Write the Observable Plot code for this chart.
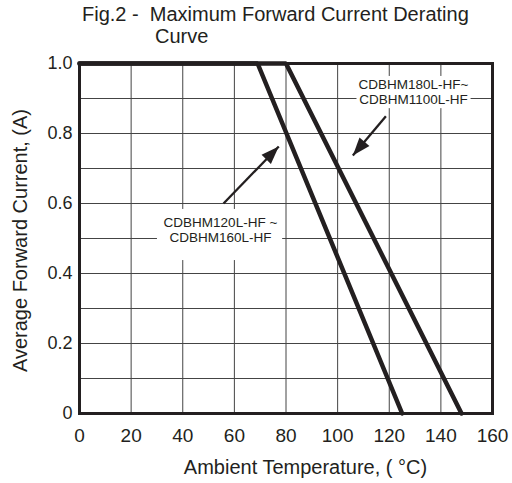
<!DOCTYPE html>
<html>
<head>
<meta charset="utf-8">
<script src="https://cdn.jsdelivr.net/npm/d3@7"></script>
<script src="https://cdn.jsdelivr.net/npm/@observablehq/plot@0.6"></script>
<style>
  html, body { margin: 0; padding: 0; background: #fff; }
  #wrap { position: relative; width: 512px; height: 483px; font-family: "Liberation Sans", Arial, sans-serif; color: #231f20; }
  #title { position: relative; height: 50px; font-size: 20px; }
  #title .l1 { position: absolute; left: 82px; top: 3px; white-space: pre; }
  #title .l2 { position: absolute; left: 155px; top: 25px; white-space: pre; }
</style>
</head>
<body>
<div id="wrap">
  <div id="title"><span class="l1">Fig.2 -  Maximum Forward Current Derating</span><span class="l2">Curve</span></div>
  <div id="chart"></div>
</div>
<script>
// ---- data ----
const xTicks = [0, 20, 40, 60, 80, 100, 120, 140, 160];
const yTicks = [0, 0.2, 0.4, 0.6, 0.8, 1.0];
const yTickLabels = ["0", "0.2", "0.4", "0.6", "0.8", "1.0"];
const xGrid = [20, 40, 60, 80, 100, 120, 140];
const yGrid = [0.1, 0.2, 0.3, 0.4, 0.5, 0.6, 0.7, 0.8, 0.9];

// CDBHM120L-HF ~ CDBHM160L-HF
const tempA = [0, 69, 125];
const currentA = [1.0, 1.0, 0];
// CDBHM180L-HF ~ CDBHM1100L-HF
const tempB = [0, 80, 148];
const currentB = [1.0, 1.0, 0];

const labelTexts = ["CDBHM180L-HF~\nCDBHM1100L-HF", "CDBHM120L-HF ~\nCDBHM160L-HF"];
const labelX = [129.4, 54.6];
const labelY = [0.919, 0.524];
const boxX1 = [107.5, 30.2];
const boxX2 = [151.7, 78.7];
const boxY1 = [0.871, 0.437];
const boxY2 = [0.963, 0.583];
const arrowX1 = [118.7, 55.8];
const arrowY1 = [0.849, 0.600];
const arrowX2 = [105.9, 77.2];
const arrowY2 = [0.737, 0.763];

// ---- build tables ----
const seriesA = tempA.map((t, i) => ({t, a: currentA[i]}));
const seriesB = tempB.map((t, i) => ({t, a: currentB[i]}));
const labels = labelTexts.map((text, i) => ({text, x: labelX[i], y: labelY[i]}));
const boxes = boxX1.map((_, i) => ({x1: boxX1[i], x2: boxX2[i], y1: boxY1[i], y2: boxY2[i]}));

const W = 512, H = 433, mL = 79, mR = 20, mT = 13, mB = 70;
const kx = (W - mL - mR) / 160, ky = (H - mT - mB) / 1;
const arrows = arrowX1.map((_, i) => {
  const dxp = (arrowX2[i] - arrowX1[i]) * kx;
  const dyp = -(arrowY2[i] - arrowY1[i]) * ky;
  return {x1: arrowX1[i], y1: arrowY1[i], x2: arrowX2[i], y2: arrowY2[i],
          angle: Math.atan2(dxp, -dyp) * 180 / Math.PI};
});

// arrow head: elongated filled triangle with its tip at the origin, pointing up
const headSymbol = {
  draw(context) {
    context.moveTo(0, 0);
    context.lineTo(-6.5, 18);
    context.lineTo(6.5, 18);
    context.closePath();
  }
};

const ink = "#231f20";

const chart = Plot.plot({
  width: W,
  height: H,
  marginLeft: mL,
  marginRight: mR,
  marginTop: mT,
  marginBottom: mB,
  style: {fontFamily: "'Liberation Sans', Arial, sans-serif", color: ink, background: "#fff", overflow: "visible"},
  x: {domain: [0, 160]},
  y: {domain: [0, 1]},
  marks: [
    Plot.gridX(xGrid, {stroke: "#444", strokeOpacity: 1, strokeWidth: 1}),
    Plot.gridY(yGrid, {stroke: "#444", strokeOpacity: 1, strokeWidth: 1}),
    Plot.rect(boxes, {x1: "x1", x2: "x2", y1: "y1", y2: "y2", fill: "#fff"}),
    Plot.text(labels, {x: "x", y: "y", text: "text", fontSize: 13.5, lineHeight: 1.12, fill: ink}),
    Plot.link(arrows, {x1: "x1", y1: "y1", x2: "x2", y2: "y2", stroke: ink, strokeWidth: 2.3}),
    Plot.dot(arrows, {x: "x2", y: "y2", rotate: "angle", symbol: headSymbol, r: 5, fill: ink, stroke: "none"}),
    Plot.frame({stroke: ink, strokeWidth: 3}),
    Plot.line(seriesA, {x: "t", y: "a", stroke: ink, strokeWidth: 4.5, strokeLinejoin: "miter"}),
    Plot.line(seriesB, {x: "t", y: "a", stroke: ink, strokeWidth: 4.5, strokeLinejoin: "miter"}),
    Plot.axisX({ticks: xTicks, tickSize: 0, tickPadding: 15, fontSize: 19, label: null, fill: ink}),
    Plot.axisY({ticks: yTicks, tickFormat: (d) => yTickLabels[yTicks.indexOf(d)], tickSize: 0, tickPadding: 7, fontSize: 18, label: null, fill: ink}),
    Plot.text(["Ambient Temperature, ( °C)"], {frameAnchor: "bottom", textAnchor: "middle", lineAnchor: "middle", dx: 19.5, dy: 54, fontSize: 20, fill: ink}),
    Plot.text(["Average Forward Current, (A)"], {frameAnchor: "left", textAnchor: "middle", lineAnchor: "middle", rotate: -90, dx: -59, dy: 2, fontSize: 20, fill: ink})
  ]
});
document.getElementById("chart").appendChild(chart);
</script>
</body>
</html>
